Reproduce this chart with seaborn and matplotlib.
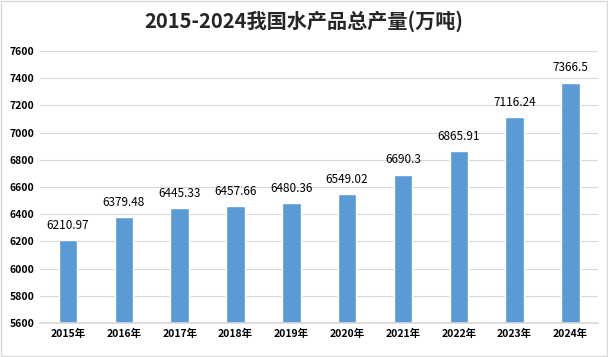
import matplotlib
matplotlib.use("Agg")
import matplotlib.pyplot as plt
import seaborn as sns
import pandas as pd

years = ["2015年", "2016年", "2017年", "2018年", "2019年", "2020年", "2021年", "2022年", "2023年", "2024年"]
values = [6210.97, 6379.48, 6445.33, 6457.66, 6480.36, 6549.02, 6690.3, 6865.91, 7116.24, 7366.5]
labels = ["6210.97", "6379.48", "6445.33", "6457.66", "6480.36", "6549.02", "6690.3", "6865.91", "7116.24", "7366.5"]
title = "2015-2024我国水产品总产量(万吨)"

sns.set_theme(style="white")
plt.rcParams['font.family'] = ['Noto Sans CJK SC', 'DejaVu Sans']

df = pd.DataFrame({"year": years, "value": values})

fig = plt.figure(figsize=(6.08, 3.57), dpi=100)
ax = fig.add_axes([0.066, 0.095, 0.918, 0.762])
sns.barplot(data=df, x="year", y="value", color="#5B9BD5", saturation=1, width=0.33, ax=ax)

ax.set_ylim(5600, 7600)
ax.set_yticks(range(5600, 7601, 200))
ax.yaxis.grid(True, color="#D9D9D9", linewidth=0.8)
ax.set_axisbelow(True)
for s in ax.spines.values():
    s.set_visible(False)
ax.spines['bottom'].set_visible(True)
ax.spines['bottom'].set_color("#D9D9D9")
ax.set_xlabel("")
ax.set_ylabel("")
ax.tick_params(axis='both', length=0, labelsize=7.5, colors="#000000", pad=4)
for t in ax.get_xticklabels() + ax.get_yticklabels():
    t.set_fontweight('bold')

for i, (v, l) in enumerate(zip(values, labels)):
    ax.annotate(l, (i, v), xytext=(0, 6), textcoords="offset points",
                ha="center", va="bottom", fontsize=8.5, color="#000000")

fig.text(0.5, 0.942, title, ha="center", va="center", fontsize=14.5, fontweight="bold")

border = plt.Rectangle((0.002, 0.003), 0.996, 0.994, transform=fig.transFigure,
                       fill=False, edgecolor="#D9D9D9", linewidth=1)
fig.patches.append(border)

fig.savefig("out.png", dpi=100)
